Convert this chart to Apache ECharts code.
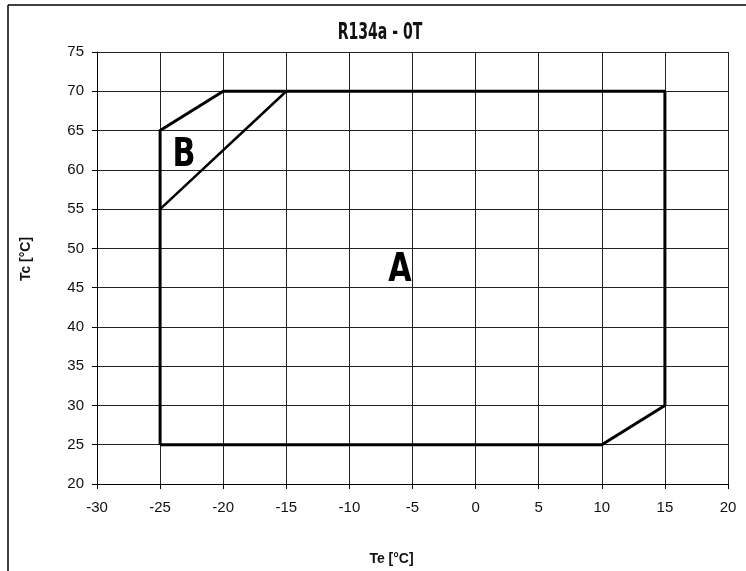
<!DOCTYPE html>
<html>
<head>
<meta charset="utf-8">
<script src="https://cdn.jsdelivr.net/npm/echarts@6/dist/echarts.min.js"></script>
<style>
html,body{margin:0;padding:0;background:#fff;}
#chart{width:746px;height:571px;}
</style>
</head>
<body>
<div id="chart"></div>
<script>
// Envelope outline (region A + B)
var outlineTe = [-25, -25, -20, 15, 15, 10, -25];
var outlineTc = [25, 65, 70, 70, 30, 25, 25];
// Divider line separating region B
var dividerTe = [-25, -15];
var dividerTc = [55, 70];
// Region labels
var regionNames = ['A', 'B'];
var regionTe = [-6, -23.1];
var regionTc = [47.6, 62.3];
// Axis ticks
var xTicks = [-30, -25, -20, -15, -10, -5, 0, 5, 10, 15, 20];
var yTicks = [20, 25, 30, 35, 40, 45, 50, 55, 60, 65, 70, 75];
var titleText = 'R134a - 0T';

function pairs(xs, ys) { return xs.map(function (x, i) { return [x, ys[i]]; }); }

var chart = echarts.init(document.getElementById('chart'), null, {renderer: 'canvas'});
var narrow = "'DejaVu Sans Condensed', 'DejaVu Sans', sans-serif";
var arial = "'Liberation Sans', Arial, sans-serif";

chart.setOption({
  animation: false,
  backgroundColor: '#fff',
  grid: {left: 97, right: 18, top: 52, bottom: 81, containLabel: false},
  xAxis: {
    type: 'value',
    min: xTicks[0], max: xTicks[xTicks.length - 1], interval: 5,
    name: 'Te [°C]',
    nameLocation: 'middle',
    nameGap: 68,
    nameTextStyle: {fontFamily: arial, fontWeight: 'bold', fontSize: 14, color: '#111', padding: [0, 42, 0, 0]},
    axisLine: {show: true, onZero: false, lineStyle: {color: '#000', width: 1}},
    axisTick: {show: true, inside: false, length: 5, lineStyle: {color: '#000'}},
    axisLabel: {fontFamily: arial, fontSize: 15, color: '#111', margin: 16},
    splitLine: {show: true, lineStyle: {color: '#222', width: 1}}
  },
  yAxis: {
    type: 'value',
    min: yTicks[0], max: yTicks[yTicks.length - 1], interval: 5,
    name: 'Tc [°C]',
    nameLocation: 'middle',
    nameGap: 64,
    nameTextStyle: {fontFamily: arial, fontWeight: 'bold', fontSize: 14, color: '#111', padding: [0, 0, 0, 18]},
    axisLine: {show: true, onZero: false, lineStyle: {color: '#000', width: 1}},
    axisTick: {show: true, inside: false, length: 5, lineStyle: {color: '#000'}},
    axisLabel: {fontFamily: arial, fontSize: 15, color: '#111', margin: 13},
    splitLine: {show: true, lineStyle: {color: '#222', width: 1}}
  },
  series: [
    {
      type: 'line',
      data: pairs(outlineTe, outlineTc),
      symbol: 'none',
      lineStyle: {color: '#000', width: 3},
      z: 5
    },
    {
      type: 'line',
      data: pairs(dividerTe, dividerTc),
      symbol: 'none',
      lineStyle: {color: '#000', width: 2.5},
      z: 5
    }
  ]
});

// Region letters placed through the chart's own scales
var graphics = [
  {type: 'line', shape: {x1: 8, y1: 5, x2: 746, y2: 5}, style: {stroke: '#000', lineWidth: 1.5}},
  {type: 'line', shape: {x1: 8, y1: 5, x2: 8, y2: 571}, style: {stroke: '#000', lineWidth: 1.5}},
  {
    type: 'text', x: 380, y: 33, scaleX: 0.68,
    style: {text: titleText, x: 0, y: 0, textAlign: 'center', textVerticalAlign: 'middle',
      font: "bold 23px " + narrow, fill: '#111'}
  }
];
regionNames.forEach(function (n, i) {
  var p = chart.convertToPixel({gridIndex: 0}, [regionTe[i], regionTc[i]]);
  graphics.push({
    type: 'text', x: p[0], y: p[1], scaleX: 0.86, z: 10,
    style: {text: n, x: 0, y: 4, textAlign: 'center', textVerticalAlign: 'middle',
      font: "bold 39px " + narrow, fill: '#000'}
  });
});
chart.setOption({graphic: graphics});
</script>
</body>
</html>
